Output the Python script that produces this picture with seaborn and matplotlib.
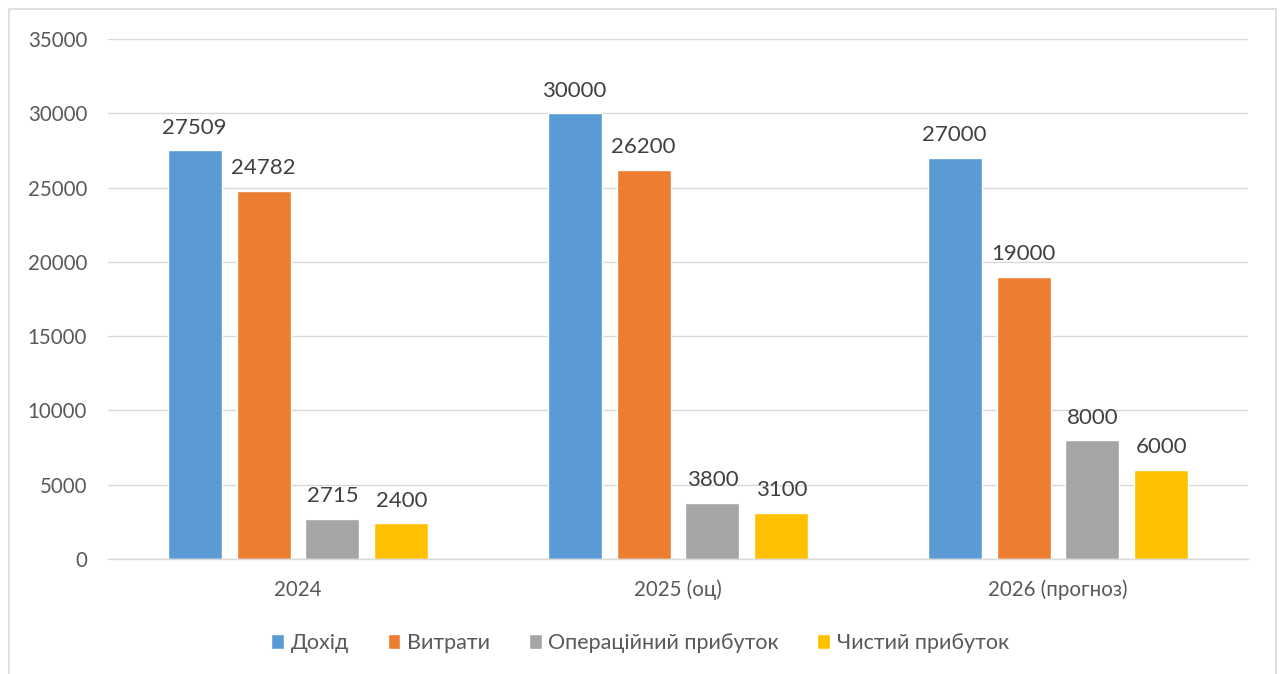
import matplotlib
matplotlib.use("Agg")
import matplotlib.pyplot as plt
import seaborn as sns
import pandas as pd
from matplotlib.patches import Rectangle

years = ["2024", "2025 (оц)", "2026 (прогноз)"]
series = ["Дохід", "Витрати", "Операційний прибуток", "Чистий прибуток"]
dohid = [27509, 30000, 27000]
vytraty = [24782, 26200, 19000]
oper = [2715, 3800, 8000]
chystyi = [2400, 3100, 6000]
colors = ["#5B9BD5", "#ED7D31", "#A5A5A5", "#FFC000"]

rows = []
for name, vals in zip(series, [dohid, vytraty, oper, chystyi]):
    for y, v in zip(years, vals):
        rows.append({"year": y, "series": name, "value": v})
df = pd.DataFrame(rows)

sns.set_theme(style="white")
plt.rcParams["font.family"] = ["Lato", "DejaVu Sans"]

fig = plt.figure(figsize=(12.8, 6.74), dpi=100)
ax = fig.add_axes([108/1280, 1-559/674, 1140/1280, 520/674])
sns.barplot(data=df, x="year", y="value", hue="series", order=years,
            hue_order=series, palette=colors, width=0.726, gap=0.217,
            saturation=1, ax=ax, legend=True)

ax.set_ylim(0, 35000)
ax.set_xlim(-0.5, 2.5)
ax.set_yticks(range(0, 35001, 5000))
ax.yaxis.grid(True, color="#D9D9D9", linewidth=1)
ax.set_axisbelow(True)
for s in ["top", "right", "left"]:
    ax.spines[s].set_visible(False)
ax.spines["bottom"].set_color("#D9D9D9")
ax.spines["bottom"].set_linewidth(1)
ax.tick_params(axis="both", length=0, labelsize=14.8, colors="#595959")
ax.tick_params(axis="x", pad=15)
ax.tick_params(axis="y", pad=15)
ax.set_xlabel("")
ax.set_ylabel("")

for c in ax.containers:
    ax.bar_label(c, labels=[f"{int(v)}" for v in c.datavalues], padding=9,
                 fontsize=16, color="#404040")

handles, labels = ax.get_legend_handles_labels()
ax.legend_.remove()
fig.legend(handles, labels, loc="center", bbox_to_anchor=(0.5, 1-643/674),
           ncol=4, frameon=False, fontsize=15.5, handlelength=0.6, handleheight=0.75,
           handletextpad=0.3, columnspacing=1.8, labelcolor="#595959")

fig.patches.append(Rectangle((9/1280, -0.05), 1267/1280, 1.05 - 9/674,
                             transform=fig.transFigure, fill=False,
                             edgecolor="#D9D9D9", linewidth=1.2))
fig.savefig("out.png", dpi=100)
